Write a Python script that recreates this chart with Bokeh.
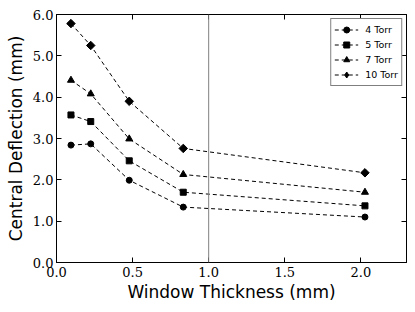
import numpy as np
from bokeh.plotting import figure
from bokeh.models import (Span, LinearAxis, FixedTicker, PrintfTickFormatter,
                          Range1d, Legend, LegendItem)
from bokeh.embed import file_html
from bokeh.resources import INLINE

# ---- data ----
thickness = [0.095, 0.225, 0.478, 0.833, 2.027]
torr4 = [2.84, 2.87, 1.99, 1.34, 1.10]
torr5 = [3.57, 3.41, 2.46, 1.70, 1.37]
torr7 = [4.41, 4.08, 2.99, 2.13, 1.70]
torr10 = [5.78, 5.25, 3.90, 2.76, 2.17]
x_ticks = [0.0, 0.5, 1.0, 1.5, 2.0]
y_ticks = [0.0, 1.0, 2.0, 3.0, 4.0, 5.0, 6.0]

p = figure(width=407, height=304, output_backend="svg", toolbar_location=None,
           x_range=Range1d(0, 2.3), y_range=Range1d(0, 6.0),
           min_border_left=56, min_border_right=1, min_border_top=14,
           min_border_bottom=42)
p.background_fill_color = "white"
p.border_fill_color = "white"
p.outline_line_color = "black"
p.outline_line_width = 1
p.grid.visible = False

tick_font = "DejaVu Serif"
for ax in (p.xaxis[0], p.yaxis[0]):
    ax.major_tick_in = 5
    ax.major_tick_out = 0
    ax.minor_tick_line_color = None
    ax.axis_line_color = "black"
    ax.major_label_text_font = tick_font
    ax.major_label_text_font_size = "13px"
    ax.major_label_text_color = "black"
    ax.axis_label_text_font = "DejaVu Sans"
    ax.axis_label_text_font_size = "17px"
    ax.axis_label_text_font_style = "normal"
    ax.axis_label_text_color = "black"
    ax.formatter = PrintfTickFormatter(format="%.1f")

p.xaxis[0].ticker = FixedTicker(ticks=x_ticks)
p.yaxis[0].ticker = FixedTicker(ticks=y_ticks)
p.xaxis[0].axis_label = "Window Thickness (mm)"
p.yaxis[0].axis_label = "Central Deflection (mm)"
p.xaxis[0].major_label_standoff = 4
p.yaxis[0].major_label_standoff = 3
p.xaxis[0].axis_label_standoff = 2
p.yaxis[0].axis_label_standoff = 4

top = LinearAxis(ticker=FixedTicker(ticks=x_ticks), major_tick_in=5, major_tick_out=0,
                 minor_tick_line_color=None,
                 major_label_overrides={t: "" for t in x_ticks},
                 major_label_standoff=0)
right = LinearAxis(ticker=FixedTicker(ticks=y_ticks), major_tick_in=5, major_tick_out=0,
                   minor_tick_line_color=None,
                   major_label_overrides={t: "" for t in y_ticks},
                   major_label_standoff=0)
p.add_layout(top, "above")
p.add_layout(right, "right")

p.add_layout(Span(location=1.0, dimension="height", line_color="#808080", line_width=1))

series = [
    ("4 Torr", torr4, dict(marker="circle", size=6), None),
    ("5 Torr", torr5, dict(marker="square", size=6), None),
    ("7 Torr", torr7, dict(marker="triangle", size=7), None),
    ("10 Torr", torr10, dict(marker="square", size=6, angle=np.pi / 4),
     dict(marker="diamond", size=5)),
]
items = []
for label, ys, mk, legend_mk in series:
    ln = p.line(thickness, ys, line_color="black", line_width=1, line_dash="4 3")
    if legend_mk is not None:
        # legend stand-in (legend markers ignore angle); hidden beneath the real markers
        dummy = p.scatter(thickness, ys, fill_color="black", line_color="black", **legend_mk)
        p.scatter(thickness, ys, fill_color="black", line_color="black", **mk)
        items.append(LegendItem(label=label, renderers=[ln, dummy]))
    else:
        sc = p.scatter(thickness, ys, fill_color="black", line_color="black", **mk)
        items.append(LegendItem(label=label, renderers=[ln, sc]))

legend = Legend(items=items, location="top_right")
legend.label_text_font = "DejaVu Sans"
legend.label_text_font_size = "9.5px"
legend.label_text_color = "black"
legend.label_height = 15
legend.glyph_height = 15
legend.glyph_width = 24
legend.spacing = 0
legend.padding = 3
legend.margin = 4
legend.label_standoff = 7
legend.border_line_color = "black"
legend.border_line_width = 1
legend.background_fill_alpha = 1
p.add_layout(legend)

open("out.html", "w").write(file_html(p, INLINE))
